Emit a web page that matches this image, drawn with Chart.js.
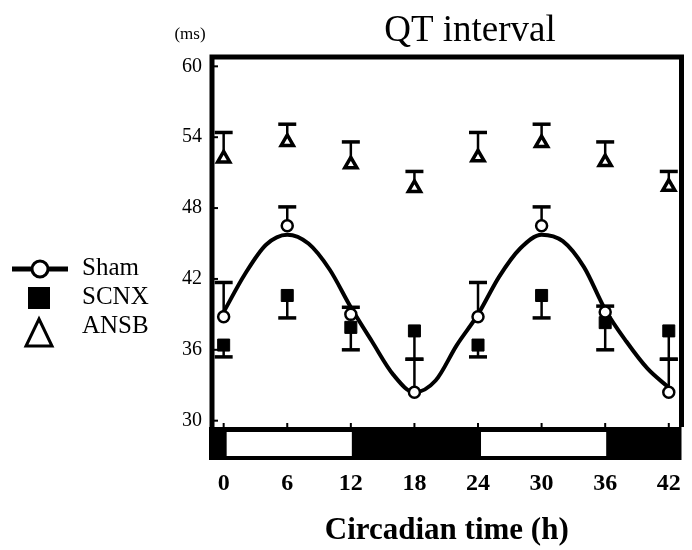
<!DOCTYPE html>
<html>
<head>
<meta charset="utf-8">
<script src="https://cdn.jsdelivr.net/npm/chart.js@4"></script>
<style>
  body { margin: 0; background: #fff; }
  canvas { display: block; }
</style>
</head>
<body>
<canvas id="myChart" width="692" height="550"></canvas>
<script>
// circadian time (h) of each sample
var hours = [0, 6, 12, 18, 24, 30, 36, 42];

// QT interval (ms), mean and error for each group
var shamQT  = [38.8, 46.5, 39.0, 32.4, 38.8, 46.5, 39.2, 32.4];
var shamErr = [2.9, 1.6, 0.6, 2.8, 2.9, 1.6, 0.5, 2.8];
var scnxQT  = [36.4, 40.6, 37.9, 37.6, 36.4, 40.6, 38.3, 37.6];
var scnxErr = [1.0, 1.9, 1.9, 2.4, 1.0, 1.9, 2.3, 2.4];
var ansbQT  = [52.2, 53.6, 51.7, 49.7, 52.3, 53.5, 51.9, 49.8];
var ansbErr = [2.2, 1.5, 1.9, 1.4, 2.1, 1.6, 1.7, 1.3];

var fitHours = [0, 2, 4, 6, 8, 10, 12, 14, 16, 18, 20, 22, 24, 26, 28, 30, 32, 34, 36, 38, 40, 42];
var fitQT = [39.2, 42.4, 44.9, 45.75, 45.0, 42.8, 39.6, 36.7, 33.9, 32.4, 33.4, 36.4,
             39.0, 42.2, 44.6, 45.75, 45.2, 43.0, 39.4, 36.7, 34.4, 32.8];

// light / dark phases under the plot
var phaseStart = [-1.1, 0, 12, 24, 36];
var phaseEnd   = [0, 12, 24, 36, 43.2];
var phaseLight = [false, true, false, true, false];

var xTicks = [0, 6, 12, 18, 24, 30, 36, 42];
var yTicks = [30, 36, 42, 48, 54, 60];

var serif = "'Liberation Serif', 'Times New Roman', serif";

function points(xs, ys) {
  return xs.map(function(v, i) { return {x: v, y: ys[i]}; });
}

var errorBars = {
  id: 'errorBars',
  beforeDatasetsDraw: function(chart) {
    var ctx = chart.ctx, x = chart.scales.x, y = chart.scales.y;
    ctx.save();
    ctx.strokeStyle = '#000';
    chart.data.datasets.forEach(function(ds) {
      if (!ds.errors) return;
      ds.data.forEach(function(p, i) {
        var px = x.getPixelForValue(p.x);
        var y0 = y.getPixelForValue(p.y);
        var y1 = y.getPixelForValue(p.y + ds.errDir * ds.errors[i]);
        ctx.lineWidth = 2.5;
        ctx.beginPath(); ctx.moveTo(px, y0); ctx.lineTo(px, y1); ctx.stroke();
        ctx.lineWidth = 3.5;
        ctx.beginPath(); ctx.moveTo(px - 9, y1); ctx.lineTo(px + 9, y1); ctx.stroke();
      });
    });
    ctx.restore();
  }
};

var frame = {
  id: 'frame',
  afterDraw: function(chart) {
    var ctx = chart.ctx, a = chart.chartArea, x = chart.scales.x, y = chart.scales.y;
    ctx.save();
    // light/dark bar
    var barTop = a.bottom - 1, barBot = a.bottom + 32;
    var left = x.getPixelForValue(phaseStart[0]), right = x.getPixelForValue(phaseEnd[phaseEnd.length - 1]);
    ctx.fillStyle = '#000';
    ctx.fillRect(left - 3, barTop, right - left + 3, barBot - barTop);
    ctx.fillStyle = '#fff';
    for (var i = 0; i < phaseStart.length; i++) {
      if (!phaseLight[i]) continue;
      var x0 = x.getPixelForValue(phaseStart[i]) + 3;
      var x1 = x.getPixelForValue(phaseEnd[i]) + 1;
      ctx.fillRect(x0, barTop + 5, x1 - x0, barBot - barTop - 9);
    }
    // box
    ctx.strokeStyle = '#000';
    ctx.lineWidth = 5;
    ctx.beginPath();
    ctx.moveTo(a.left, barTop);
    ctx.lineTo(a.left, a.top);
    ctx.lineTo(a.right, a.top);
    ctx.lineTo(a.right, barTop);
    ctx.stroke();
    // small inward ticks
    ctx.lineWidth = 2;
    xTicks.forEach(function(v) {
      var px = x.getPixelForValue(v);
      ctx.beginPath(); ctx.moveTo(px, barTop); ctx.lineTo(px, barTop - 4); ctx.stroke();
    });
    yTicks.forEach(function(v) {
      var py = y.getPixelForValue(v);
      ctx.beginPath(); ctx.moveTo(a.left, py); ctx.lineTo(a.left + 6, py); ctx.stroke();
    });
    // titles
    ctx.fillStyle = '#000';
    ctx.textAlign = 'center';
    ctx.textBaseline = 'middle';
    ctx.font = '37px ' + serif;
    ctx.fillText('QT interval', 470, 31);
    ctx.font = '17px ' + serif;
    ctx.fillText('(ms)', 190, 35);
    // legend
    ctx.lineWidth = 5;
    ctx.beginPath(); ctx.moveTo(12, 269); ctx.lineTo(68, 269); ctx.stroke();
    ctx.lineWidth = 3;
    ctx.beginPath(); ctx.arc(40, 269, 8, 0, Math.PI * 2);
    ctx.fillStyle = '#fff'; ctx.fill(); ctx.stroke();
    ctx.fillStyle = '#000';
    ctx.fillRect(28, 287, 22, 22);
    ctx.beginPath(); ctx.moveTo(39, 319); ctx.lineTo(52, 346); ctx.lineTo(26, 346); ctx.closePath(); ctx.stroke();
    ctx.font = '25px ' + serif;
    ctx.textAlign = 'left';
    ctx.fillText('Sham', 82, 268);
    ctx.fillText('SCNX', 82, 297);
    ctx.fillText('ANSB', 82, 326);
    ctx.restore();
  }
};

var chart = new Chart('myChart', {
  type: 'scatter',
  data: {
    datasets: [{
      label: 'Sham',
      data: points(hours, shamQT),
      errors: shamErr, errDir: 1,
      pointStyle: 'circle', pointRadius: 5.5, pointBorderWidth: 2.5,
      backgroundColor: '#fff', borderColor: '#000',
      order: 0
    }, {
      label: 'fit',
      data: points(fitHours, fitQT),
      showLine: true, pointRadius: 0,
      borderColor: '#000', borderWidth: 4,
      cubicInterpolationMode: 'monotone',
      order: 1
    }, {
      label: 'SCNX',
      data: points(hours, scnxQT),
      errors: scnxErr, errDir: -1,
      pointStyle: 'rect', pointRadius: 8.5, pointBorderWidth: 1,
      backgroundColor: '#000', borderColor: '#000',
      order: 2
    }, {
      label: 'ANSB',
      data: points(hours, ansbQT),
      errors: ansbErr, errDir: 1,
      pointStyle: 'triangle', pointRadius: 7, pointBorderWidth: 3.5,
      backgroundColor: '#fff', borderColor: '#000',
      order: 3
    }]
  },
  options: {
    responsive: false,
    animation: false,
    layout: { padding: { left: 150, top: 57, right: 8, bottom: 0 } },
    plugins: {
      legend: { display: false },
      tooltip: { enabled: false }
    },
    scales: {
      x: {
        type: 'linear', min: -1.1, max: 43.2,
        afterBuildTicks: function(axis) { axis.ticks = xTicks.map(function(v) { return {value: v}; }); },
        afterFit: function(axis) { axis.height = 122; },
        ticks: { color: '#000', padding: 0, maxRotation: 0, font: { family: serif, size: 24, weight: 'bold' } },
        grid: { display: false, drawTicks: true, tickLength: 41 },
        border: { display: false },
        title: {
          display: true, text: 'Circadian time (h)', color: '#000',
          font: { family: serif, size: 31, weight: 'bold' },
          padding: { top: 15, bottom: 0 }
        }
      },
      y: {
        min: 29.38, max: 60.79,
        afterBuildTicks: function(axis) { axis.ticks = yTicks.map(function(v) { return {value: v}; }); },
        afterFit: function(axis) { axis.width = 62; },
        ticks: { color: '#000', padding: 10, font: { family: serif, size: 20 } },
        grid: { display: false, drawTicks: false },
        border: { display: false }
      }
    }
  },
  plugins: [errorBars, frame]
});
</script>
</body>
</html>
